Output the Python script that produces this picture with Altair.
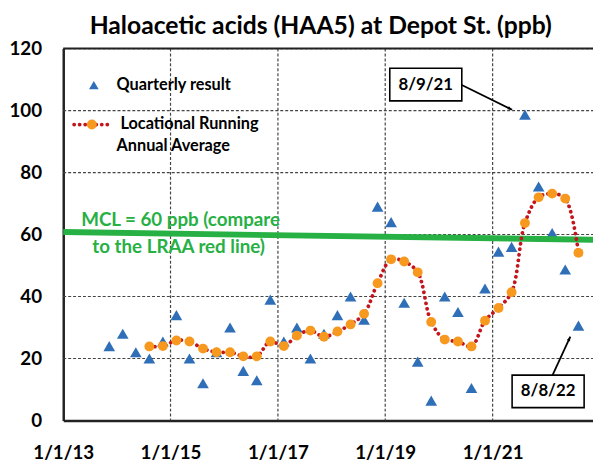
import math
import altair as alt
import pandas as pd

# ---------------- data ----------------
q_dates = [
    "2013-11-10",
    "2014-02-10", "2014-05-10", "2014-08-10", "2014-11-10",
    "2015-02-10", "2015-05-10", "2015-08-10", "2015-11-10",
    "2016-02-10", "2016-05-10", "2016-08-10", "2016-11-10",
    "2017-02-10", "2017-05-10", "2017-08-10", "2017-11-10",
    "2018-02-10", "2018-05-10", "2018-08-10", "2018-11-10",
    "2019-02-10", "2019-05-10", "2019-08-10", "2019-11-10",
    "2020-02-10", "2020-05-10", "2020-08-10", "2020-11-10",
    "2021-02-10", "2021-05-10", "2021-08-09", "2021-11-10",
    "2022-02-10", "2022-05-10", "2022-08-08",
]
q_values = [
    24,
    28, 22, 20, 25.5,
    34, 20, 12, 22,
    30, 16, 13, 39,
    25.5, 30, 20, 28,
    34, 40, 32.5, 69,
    64, 38, 19, 6.4,
    40, 35, 10.5, 42.6,
    54.5, 56, 98.7, 75.5,
    60.5, 48.7, 30.6,
]
lraa_dates = [
    "2014-08-10", "2014-11-10",
    "2015-02-10", "2015-05-10", "2015-08-10", "2015-11-10",
    "2016-02-10", "2016-05-10", "2016-08-10", "2016-11-10",
    "2017-02-10", "2017-05-10", "2017-08-10", "2017-11-10",
    "2018-02-10", "2018-05-10", "2018-08-10", "2018-11-10",
    "2019-02-10", "2019-05-10", "2019-08-10", "2019-11-10",
    "2020-02-10", "2020-05-10", "2020-08-10", "2020-11-10",
    "2021-02-10", "2021-05-10", "2021-08-09", "2021-11-10",
    "2022-02-10", "2022-05-10", "2022-08-08",
]
lraa_values = [
    23.9, 24.0,
    25.8, 25.5, 23.2, 22.0,
    22.0, 20.7, 20.7, 25.5,
    24.0, 27.4, 29.0, 27.0,
    28.7, 31.0, 34.4, 44.3,
    52.0, 51.3, 47.8, 31.8,
    26.1, 25.5, 23.9, 32.2,
    36.3, 41.4, 63.7, 72.0,
    73.2, 71.6, 54.1,
]
mcl_dates = ["2013-01-01", "2022-11-15"]
mcl_values = [60.8, 58.3]

y_ticks = [0, 20, 40, 60, 80, 100, 120]
x_ticks = ["2013-01-01", "2015-01-01", "2017-01-01", "2019-01-01", "2021-01-01"]

title_text = "Haloacetic acids (HAA5) at Depot St. (ppb)"
legend_q = "Quarterly result"
legend_l1 = "Locational Running"
legend_l2 = "Annual Average"
mcl_l1 = "MCL = 60 ppb (compare"
mcl_l2 = "to the LRAA red line)"
ann1 = "8/9/21"
ann2 = "8/8/22"

# ---------------- style ----------------
FONT = "Lato"
BLUE = "#2f6fb8"
ORANGE = "#f7981f"
RED = "#c3161c"
GREEN = "#27b044"
GRID = "#444444"
W, H = 537, 377

df_q = pd.DataFrame({"date": q_dates, "v": q_values})
df_l = pd.DataFrame({"date": lraa_dates, "v": lraa_values})
df_m = pd.DataFrame({"date": mcl_dates, "v": mcl_values})
df_xg = pd.DataFrame({"date": x_ticks[1:]})
df_yg = pd.DataFrame({"g": y_ticks[1:]})

x_scale = alt.Scale(
    type="utc",
    domain=[alt.DateTime(year=2013, month=1, date=1, utc=True),
            alt.DateTime(year=2022, month=11, date=15, utc=True)],
)
y_scale = alt.Scale(domain=[0, 120], nice=False, zero=True)

x_enc = alt.X(
    "date:T",
    title=None,
    scale=x_scale,
    axis=alt.Axis(
        values=[alt.DateTime(year=int(d[:4]), month=1, date=1, utc=True) for d in x_ticks],
        labelExpr="utcFormat(datum.value, '%-m/%-d/%y')",
        labelFont=FONT, labelFontSize=19, labelFontWeight="bold", labelColor="black",
        labelPadding=24, ticks=False, labelFlush=False, labelOverlap=False, labelBound=False,
        domainColor="#222", domainWidth=2.5, grid=False,
    ),
)
y_enc = alt.Y(
    "v:Q",
    title=None,
    scale=y_scale,
    axis=alt.Axis(
        values=y_ticks,
        labelFont=FONT, labelFontSize=19, labelFontWeight="bold", labelColor="black",
        labelPadding=22, ticks=False, labelOverlap=False, labelBound=False, labelFlush=False,
        domainColor="#222", domainWidth=2.5, grid=False,
    ),
)

# grid lines (drawn as rule layers)
xgrid = alt.Chart(df_xg).mark_rule(color=GRID, strokeWidth=1.2, strokeDash=[3, 2], opacity=1).encode(
    x=alt.X("date:T", scale=x_scale, title=None),
    y=alt.value(0), y2=alt.value(H))
ygrid = alt.Chart(df_yg).mark_rule(color=GRID, strokeWidth=1.2, strokeDash=[3, 2], opacity=1).encode(
    y=alt.Y("g:Q", scale=y_scale, title=None),
    x=alt.value(0), x2=alt.value(W))

tri = alt.Chart(df_q).mark_point(
    shape="triangle-up", filled=True, size=140, color=BLUE, opacity=1
).encode(x=x_enc, y=y_enc)

mcl = alt.Chart(df_m).mark_line(color=GREEN, strokeWidth=6).encode(x=x_enc, y=y_enc)

lraa_line = alt.Chart(df_l).mark_line(
    color=RED, strokeWidth=3.8, strokeDash=[0.1, 5.5], strokeCap="round",
    interpolate="catmull-rom"
).encode(x=x_enc, y=y_enc)

lraa_pts = alt.Chart(df_l).mark_circle(size=100, color=ORANGE, opacity=1).encode(x=x_enc, y=y_enc)

one = pd.DataFrame({"k": [0]})

def txt(text, x, y, size, weight="normal", color="black", align="center"):
    return alt.Chart(one).mark_text(
        text=text, font=FONT, fontSize=size, fontWeight=weight, color=color,
        align=align, baseline="middle"
    ).encode(x=alt.value(x), y=alt.value(y))

# frame top border
top_border = alt.Chart(one).mark_rule(color="#222", strokeWidth=2).encode(
    x=alt.value(0), x2=alt.value(W), y=alt.value(0))

# title
title = txt(title_text, 261, -23, 25, "bold")

# legend
leg_tri = alt.Chart(one).mark_point(
    shape="triangle-up", filled=True, size=95, color=BLUE, opacity=1
).encode(x=alt.value(31), y=alt.value(37))
leg_q = txt(legend_q, 54, 37, 16.5, "bold", align="left")
leg_dots = alt.Chart(one).mark_rule(
    color=RED, strokeWidth=3.8, strokeDash=[0.1, 5.5], strokeCap="round"
).encode(x=alt.value(11), x2=alt.value(49), y=alt.value(77))
leg_circ = alt.Chart(one).mark_circle(size=100, color=ORANGE, opacity=1).encode(
    x=alt.value(29), y=alt.value(77))
leg_l1 = txt(legend_l1, 58, 77, 16.5, "bold", align="left")
leg_l2 = txt(legend_l2, 54, 99, 16.5, "bold", align="left")

# MCL text
mcl_t1 = txt(mcl_l1, 119, 174, 19, "bold", GREEN)
mcl_t2 = txt(mcl_l2, 117, 201, 19, "bold", GREEN)

# annotations
def box(x1, y1, x2, y2):
    return alt.Chart(one).mark_rect(fill="white", stroke="black", strokeWidth=1.6).encode(
        x=alt.value(x1), x2=alt.value(x2), y=alt.value(y1), y2=alt.value(y2))

def arrow(x1, y1, x2, y2):
    ang = math.degrees(math.atan2(x2 - x1, -(y2 - y1))) % 360
    line = alt.Chart(one).mark_rule(color="black", strokeWidth=1.8).encode(
        x=alt.value(x1), y=alt.value(y1), x2=alt.value(x2), y2=alt.value(y2))
    head = alt.Chart(one).mark_point(
        shape="M0,0L-0.6,1.5L0.6,1.5Z", filled=True, size=36, color="black",
        opacity=1, angle=ang
    ).encode(x=alt.value(x2), y=alt.value(y2))
    return line + head

a1 = arrow(404, 37, 455, 62) + box(331, 20, 404, 53) + txt(ann1, 367.5, 36.5, 17, "bold")
a2 = arrow(496, 331, 514, 292) + box(455, 331, 528, 364) + txt(ann2, 491.5, 347.5, 17, "bold")

chart = alt.layer(
    xgrid, ygrid,
    tri, mcl, lraa_line, lraa_pts,
    top_border, title,
    leg_tri, leg_q, leg_dots, leg_circ, leg_l1, leg_l2,
    mcl_t1, mcl_t2, a1, a2,
).properties(
    width=W, height=H,
    autosize="none",
    padding={"left": 56, "top": 38, "right": 0, "bottom": 42},
    background="white",
).configure_view(stroke=None)

chart.save("out.html", embed_options={"renderer": "svg", "actions": False})
